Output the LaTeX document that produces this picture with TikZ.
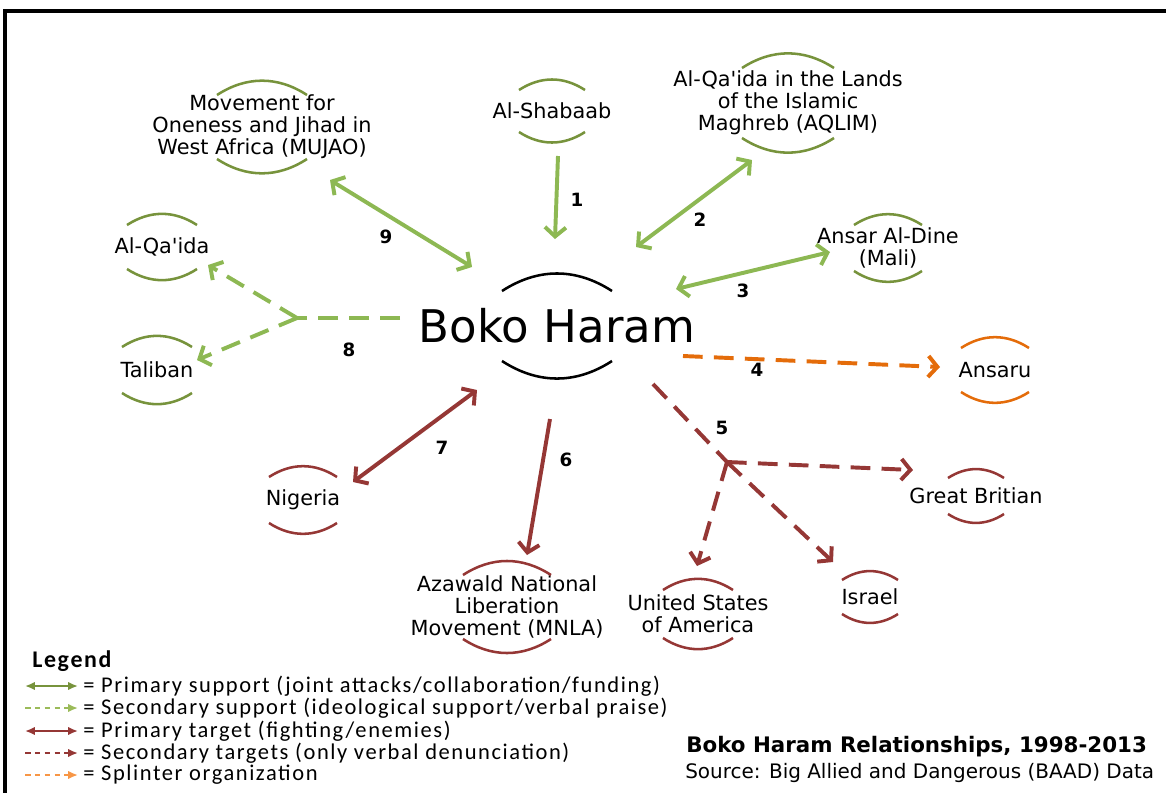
\documentclass[tikz,border=0pt]{standalone}
\usepackage{fontspec}
\setmainfont{DejaVu Sans}
\newfontfamily\legendfont{Carlito}[LetterSpace=7]
\usetikzlibrary{arrows.meta,calc}

\definecolor{ringgreen}{HTML}{77933C}
\definecolor{linkgreen}{HTML}{8DB853}
\definecolor{palegreen}{HTML}{9BBB59}
\definecolor{linkred}{HTML}{953735}
\definecolor{linkorange}{HTML}{E46C0A}
\definecolor{paleorange}{HTML}{F79646}

% two arcs above and below a node: node, colour, half width, half height
\newcommand{\ringmark}[4]{%
  \draw[#2, line width=1.8pt] ([shift={(-#3,-#4)}]#1.center) to[bend left=33] ([shift={(#3,-#4)}]#1.center);
  \draw[#2, line width=1.8pt] ([shift={(-#3,#4)}]#1.center) to[bend right=33] ([shift={(#3,#4)}]#1.center);
}

\begin{document}
\begin{tikzpicture}[x=0.025cm, y=-0.025cm, >={Straight Barb[length=6.5pt,width=15pt]},
    entity/.style={align=center, inner sep=1pt, font=\fontsize{14.8}{15.6}\selectfont},
    num/.style={font=\bfseries\fontsize{13}{13}\selectfont},
    link/.style={line width=2.8pt},
    dashlink/.style={line width=2.8pt, dash pattern=on 14pt off 8pt},
    legtext/.style={anchor=west, inner sep=0pt, font=\legendfont\fontsize{16}{16}\selectfont},
    legline/.style={line width=1.6pt}]
    \useasboundingbox (0,0) rectangle (1166,792);
    \draw[line width=2.2pt] (5,800) -- (5,11) -- (1170,11);

    % Boko Haram
    \node[font=\fontsize{32}{32}\selectfont, inner sep=1pt] (boko) at (557,326) {Boko Haram};
    \ringmark{boko}{black}{55}{35}

    % Supporters
    \node[entity] (shabaab) at (552,111) {Al-Shabaab};
    \node[entity] (aqlim) at (788,103) {Al-Qa\textquotesingle ida in the Lands\\of the Islamic\\Maghreb (AQLIM)};
    \node[entity] (ansar) at (888,248) {Ansar Al-Dine\\(Mali)};
    \node[entity] (mujao) at (262,127) {Movement for\\Oneness and Jihad in\\West Africa (MUJAO)};
    \node[entity] (qaida) at (162,247) {Al-Qa\textquotesingle ida};
    \node[entity] (taliban) at (157,370) {Taliban};
    \ringmark{shabaab}{ringgreen}{33}{21}
    \ringmark{aqlim}{ringgreen}{46}{35}
    \ringmark{ansar}{ringgreen}{34}{23}
    \ringmark{mujao}{ringgreen}{45}{32}
    \ringmark{qaida}{ringgreen}{35}{22}
    \ringmark{taliban}{ringgreen}{35}{23}

    % Splinter
    \node[entity] (ansaru) at (995,370) {Ansaru};
    \ringmark{ansaru}{linkorange}{34}{22}

    % Targets
    \node[entity] (britain) at (976,496) {Great Britian};
    \node[entity] (israel) at (870,597) {Israel};
    \node[entity] (usa) at (698,614) {United States\\of America};
    \node[entity] (mnla) at (507,607) {Azawald National\\Liberation\\Movement (MNLA)};
    \node[entity] (nigeria) at (303,500) {Nigeria};
    \ringmark{britain}{linkred}{28}{18}
    \ringmark{israel}{linkred}{28}{17}
    \ringmark{usa}{linkred}{35}{24}
    \ringmark{mnla}{linkred}{44}{32}
    \ringmark{nigeria}{linkred}{34}{23}

    % Junctions
    \coordinate (j8) at (297,318);
    \coordinate (j5) at (727,462);

    % Relationships
    \draw[link, linkgreen, ->] ($(shabaab)+(6,45)$) -- ($(boko)+(-2,-87)$);
    \draw[link, linkgreen, <->] ($(boko)+(79,-79)$) -- ($(aqlim)+(-36,57)$);
    \draw[link, linkgreen, <->] ($(boko)+(119,-37)$) -- ($(ansar)+(-58,4)$);
    \draw[dashlink, linkorange, ->] ($(boko)+(126,30)$) -- ($(ansaru)+(-55,-3)$);
    \draw[dashlink, linkred] ($(boko)+(96,58)$) -- (j5);
    \draw[dashlink, linkred, ->] (j5) -- ($(britain)+(-63,-26)$);
    \draw[dashlink, linkred, ->] (j5) -- ($(usa)+(-1,-48)$);
    \draw[dashlink, linkred, ->] (j5) -- ($(israel)+(-37,-35)$);
    \draw[link, linkred, ->] ($(boko)+(-7,93)$) -- ($(mnla)+(20,-52)$);
    \draw[link, linkred, <->] ($(boko)+(-80,64)$) -- ($(nigeria)+(50,-18)$);
    \draw[dashlink, linkgreen] ($(boko)+(-157,-8)$) -- (j8);
    \draw[dashlink, linkgreen, ->] (j8) -- ($(qaida)+(46,18)$);
    \draw[dashlink, linkgreen, ->] (j8) -- ($(taliban)+(40,-10)$);
    \draw[link, linkgreen, <->] ($(boko)+(-85,-59)$) -- ($(mujao)+(68,53)$);

    % Numbers
    \node[num] (n1) at (577,200) {1};
    \node[num] (n2) at (700,220) {2};
    \node[num] (n3) at (743,291) {3};
    \node[num] (n4) at (757,370) {4};
    \node[num] (n5) at (722,428) {5};
    \node[num] (n6) at (566,460) {6};
    \node[num] (n7) at (442,448) {7};
    \node[num] (n8) at (349,350) {8};
    \node[num] (n9) at (386,237) {9};

    % Legend
    \node[anchor=west, inner sep=0pt, font=\legendfont\bfseries\fontsize{17}{17}\selectfont] (legend) at (32,661) {Legend};
    \node[legtext] (leg1) at (83,686) {= Primary support (joint attacks/collaboration/funding)};
    \node[legtext] (leg2) at (83,708) {= Secondary support (ideological support/verbal praise)};
    \node[legtext] (leg3) at (83,731) {= Primary target (fighting/enemies)};
    \node[legtext] (leg4) at (83,753) {= Secondary targets (only verbal denunciation)};
    \node[legtext] (leg5) at (83,775) {= Splinter organization};
    \draw[legline, ringgreen, {Latex[length=7pt,width=6pt]}-{Latex[length=7pt,width=6pt]}] ([shift={(-58,0)}]leg1.west) -- ([shift={(-5,0)}]leg1.west);
    \draw[legline, palegreen, dash pattern=on 4pt off 3pt, -{Latex[length=7pt,width=6pt]}] ([shift={(-58,0)}]leg2.west) -- ([shift={(-5,0)}]leg2.west);
    \draw[legline, linkred, {Latex[length=7pt,width=6pt]}-{Latex[length=7pt,width=6pt]}] ([shift={(-58,0)}]leg3.west) -- ([shift={(-5,0)}]leg3.west);
    \draw[legline, linkred, dash pattern=on 4pt off 3pt, -{Latex[length=7pt,width=6pt]}] ([shift={(-58,0)}]leg4.west) -- ([shift={(-5,0)}]leg4.west);
    \draw[legline, paleorange, dash pattern=on 4pt off 3pt, -{Latex[length=7pt,width=6pt]}] ([shift={(-58,0)}]leg5.west) -- ([shift={(-5,0)}]leg5.west);

    % Caption
    \node[anchor=west, inner sep=0pt, font=\bfseries\fontsize{15.2}{15}\selectfont] (title) at (686,747) {Boko Haram Relationships, 1998-2013};
    \node[anchor=west, inner sep=0pt, font=\fontsize{14.2}{15}\selectfont] (source) at (685,773) {Source: Big Allied and Dangerous (BAAD) Data};
\end{tikzpicture}
\end{document}
